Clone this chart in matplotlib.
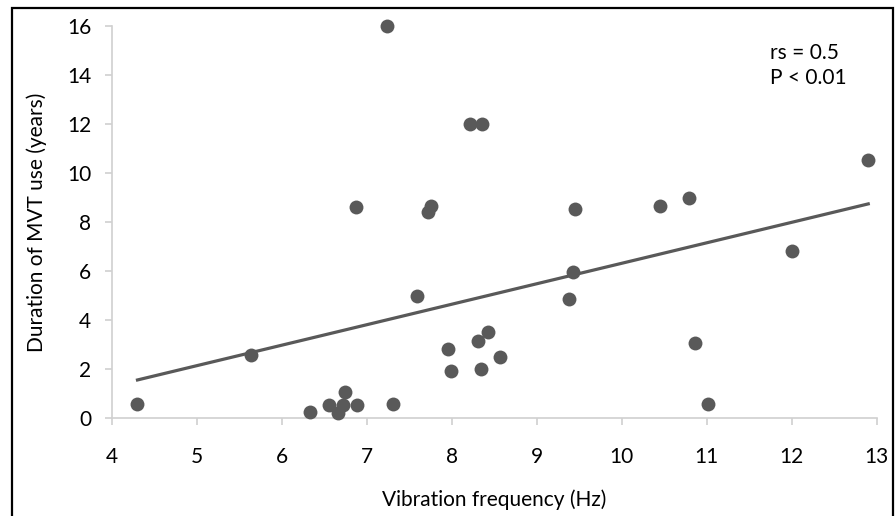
import numpy as np
import matplotlib
matplotlib.use('Agg')
import matplotlib.pyplot as plt
from matplotlib.patches import Rectangle

# vibration frequency (Hz) vs duration of MVT use (years)
freq = [4.30, 5.63, 6.33, 6.55, 6.66, 6.74, 6.72, 6.88, 6.87, 7.24, 7.31, 7.59,
        7.72, 7.75, 7.95, 7.99, 8.21, 8.36, 8.31, 8.43, 8.34, 8.57, 9.38, 9.43,
        9.45, 10.45, 10.79, 10.86, 11.01, 12.00, 12.90]
years = [0.58, 2.58, 0.24, 0.53, 0.23, 1.08, 0.54, 0.53, 8.62, 16.0, 0.58, 5.0,
         8.41, 8.66, 2.82, 1.91, 12.0, 12.0, 3.16, 3.50, 2.01, 2.50, 4.85, 5.97,
         8.52, 8.66, 8.99, 3.08, 0.58, 6.83, 10.51]
xticks = [4, 5, 6, 7, 8, 9, 10, 11, 12, 13]
yticks = [0, 2, 4, 6, 8, 10, 12, 14, 16]

plt.rcParams['font.family'] = ['Lato', 'DejaVu Sans']
fs = 15

fig = plt.figure(figsize=(8.96, 5.16), dpi=100)
ax = fig.add_axes([0.125, 0.1893, 0.8535, 0.7607])

ax.scatter(freq, years, s=100, color='#595959', zorder=3, linewidths=0, clip_on=False)

# linear trendline
k, b = np.polyfit(freq, years, 1)
xs = np.array([min(freq), max(freq)])
ax.plot(xs, k * xs + b, color='#595959', lw=2.3, zorder=2)

ax.set_xlim(4, 13)
ax.set_ylim(0, 16)
ax.set_xticks(xticks)
ax.set_yticks(yticks)
for s in ['top', 'right']:
    ax.spines[s].set_visible(False)
for s in ['left', 'bottom']:
    ax.spines[s].set_color('#d0d0d0')
    ax.spines[s].set_linewidth(1.2)
ax.tick_params(axis='both', colors='#d0d0d0', labelcolor='black', labelsize=fs, length=5, width=1.2)
ax.tick_params(axis='x', pad=16)
ax.tick_params(axis='y', pad=10)

ax.set_xlabel('Vibration frequency (Hz)', fontsize=fs, labelpad=16)
ax.set_ylabel('Duration of MVT use (years)', fontsize=fs, labelpad=14)

ax.text(0.86, 0.955, 'rs = 0.5\nP < 0.01', transform=ax.transAxes, fontsize=fs,
        va='top', ha='left', linespacing=1.3)

fig.patches.append(Rectangle((12 / 896, -0.05), 881 / 896, 1.05 - 8 / 516,
                             transform=fig.transFigure, fill=False,
                             edgecolor='black', lw=1.6))

fig.savefig('out.png', dpi=100)
